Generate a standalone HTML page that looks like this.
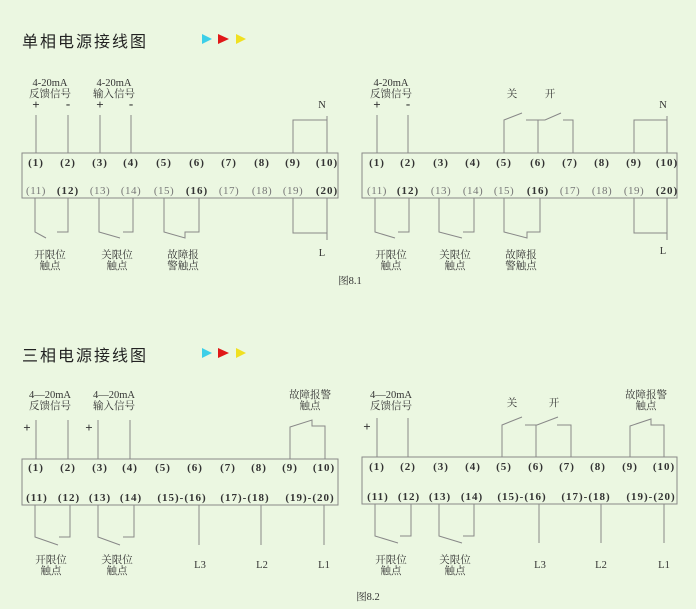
<!DOCTYPE html>
<html><head><meta charset="utf-8"><style>
html,body{margin:0;padding:0;background:#ebf7e1;}
svg{display:block;}
text{font-family:"Liberation Serif","Noto Serif CJK SC",serif;fill:#333;}
.n{font-size:11px;text-anchor:middle;font-weight:bold;letter-spacing:1px;}
.l{font-size:11px;text-anchor:middle;fill:#777;letter-spacing:0.5px;}
.c{font-size:10.5px;text-anchor:middle;}
.p{font-size:13px;text-anchor:middle;font-weight:bold;}
.t{font-family:"Liberation Sans","Noto Sans CJK SC",sans-serif;font-size:16px;fill:#222;letter-spacing:2px;}
</style></head><body>
<svg width="696" height="609" viewBox="0 0 696 609" xmlns="http://www.w3.org/2000/svg">
<rect width="696" height="609" fill="#ebf7e1"/>
<g fill="none" stroke="#888" stroke-width="1">
<rect x="22" y="153" width="316" height="45" fill="#ebf7e1"/>
<path d="M36 153V115M68 153V115M100 153V115M131 153V115"/>
<path d="M293 153V120H327M327 153V116"/>
<path d="M293 198V233H327M327 198V240"/>
<path d="M35 198V232L46 238M68 198V232H57"/>
<path d="M99 198V232L120 238M133 198V232H123"/>
<path d="M164 198V232L185 238V232H199V198"/>
<rect x="362" y="153" width="315" height="45" fill="#ebf7e1"/>
<path d="M377 153V115M408 153V115"/>
<path d="M504 153V120L522 113M526 120H545L561 113M538 153V120M563 120H573V153"/>
<path d="M634 153V120H667M667 153V116"/>
<path d="M634 198V233H667M667 198V240"/>
<path d="M375 198V232L395 238M409 198V232H398"/>
<path d="M439 198V232L462 238M474 198V232H463"/>
<path d="M504 198V232L527 238V232H540V198"/>
<rect x="22" y="459" width="316" height="46" fill="#ebf7e1"/>
<path d="M36 459V420M68 459V420M98 459V420M130 459V420"/>
<path d="M290 459V427L312 420V426H325V459"/>
<path d="M35 505V537L58 545M70 505V537H59"/>
<path d="M98 505V537L120 545M134 505V537H123"/>
<path d="M199 505V545M261 505V545M324 505V545"/>
<rect x="362" y="457" width="315" height="47" fill="#ebf7e1"/>
<path d="M377 457V418M408 457V418"/>
<path d="M502 457V425L522 417M525 425H537L558 417M536 457V425M557 425H571V457"/>
<path d="M630 457V426L651 419V425H664V457"/>
<path d="M375 504V536L398 543M411 504V536H400"/>
<path d="M439 504V536L462 543M474 504V536H463"/>
<path d="M539 504V543M601 504V543M664 504V543"/>
</g>
<text class="t" x="22" y="47">单相电源接线图</text>
<polygon points="202,34 212,39 202,44" fill="#3ccfe8"/><polygon points="218,34 229,39 218,44" fill="#e01818"/><polygon points="236,34 246,39 236,44" fill="#f0e020"/>
<text class="t" x="22" y="361">三相电源接线图</text>
<polygon points="202,348 212,353 202,358" fill="#3ccfe8"/><polygon points="218,348 229,353 218,358" fill="#e01818"/><polygon points="236,348 246,353 236,358" fill="#f0e020"/>

<text class="c" x="50" y="86">4-20mA</text><text class="c" x="50" y="97">反馈信号</text>
<text class="c" x="114" y="86">4-20mA</text><text class="c" x="114" y="97">输入信号</text>
<text class="p" x="36" y="109">+</text><text class="p" x="68" y="108">-</text>
<text class="p" x="100" y="109">+</text><text class="p" x="131" y="108">-</text>
<text class="c" x="322" y="108">N</text><text class="c" x="322" y="256">L</text>
<g class="n"><text x="36" y="166">(1)</text><text x="68" y="166">(2)</text><text x="100" y="166">(3)</text><text x="131" y="166">(4)</text><text x="164" y="166">(5)</text><text x="197" y="166">(6)</text><text x="229" y="166">(7)</text><text x="262" y="166">(8)</text><text x="293" y="166">(9)</text><text x="327" y="166">(10)</text></g>
<text class="l" x="36" y="194">(11)</text><text class="n" x="68" y="194">(12)</text><text class="l" x="100" y="194">(13)</text><text class="l" x="131" y="194">(14)</text><text class="l" x="164" y="194">(15)</text><text class="n" x="197" y="194">(16)</text><text class="l" x="229" y="194">(17)</text><text class="l" x="262" y="194">(18)</text><text class="l" x="293" y="194">(19)</text><text class="n" x="327" y="194">(20)</text>
<text class="c" x="50" y="258">开限位</text><text class="c" x="50" y="269">触点</text>
<text class="c" x="117" y="258">关限位</text><text class="c" x="117" y="269">触点</text>
<text class="c" x="183" y="258">故障报</text><text class="c" x="183" y="269">警触点</text>
<text class="c" x="350" y="284">图8.1</text>

<text class="c" x="391" y="86">4-20mA</text><text class="c" x="391" y="97">反馈信号</text>
<text class="p" x="377" y="109">+</text><text class="p" x="408" y="108">-</text>
<text class="c" x="512" y="97">关</text><text class="c" x="550" y="97">开</text>
<text class="c" x="663" y="108">N</text><text class="c" x="663" y="254">L</text>
<g class="n"><text x="377" y="166">(1)</text><text x="408" y="166">(2)</text><text x="441" y="166">(3)</text><text x="473" y="166">(4)</text><text x="504" y="166">(5)</text><text x="538" y="166">(6)</text><text x="570" y="166">(7)</text><text x="602" y="166">(8)</text><text x="634" y="166">(9)</text><text x="667" y="166">(10)</text></g>
<text class="l" x="377" y="194">(11)</text><text class="n" x="408" y="194">(12)</text><text class="l" x="441" y="194">(13)</text><text class="l" x="473" y="194">(14)</text><text class="l" x="504" y="194">(15)</text><text class="n" x="538" y="194">(16)</text><text class="l" x="570" y="194">(17)</text><text class="l" x="602" y="194">(18)</text><text class="l" x="634" y="194">(19)</text><text class="n" x="667" y="194">(20)</text>
<text class="c" x="391" y="258">开限位</text><text class="c" x="391" y="269">触点</text>
<text class="c" x="455" y="258">关限位</text><text class="c" x="455" y="269">触点</text>
<text class="c" x="521" y="258">故障报</text><text class="c" x="521" y="269">警触点</text>

<text class="c" x="50" y="398">4—20mA</text><text class="c" x="50" y="409">反馈信号</text>
<text class="c" x="114" y="398">4—20mA</text><text class="c" x="114" y="409">输入信号</text>
<text class="p" x="27" y="432">+</text><text class="p" x="89" y="432">+</text>
<text class="c" x="310" y="398">故障报警</text><text class="c" x="310" y="409">触点</text>
<g class="n"><text x="36" y="471">(1)</text><text x="68" y="471">(2)</text><text x="100" y="471">(3)</text><text x="130" y="471">(4)</text><text x="163" y="471">(5)</text><text x="195" y="471">(6)</text><text x="228" y="471">(7)</text><text x="259" y="471">(8)</text><text x="290" y="471">(9)</text><text x="324" y="471">(10)</text>
<text x="37" y="501">(11)</text><text x="69" y="501">(12)</text><text x="100" y="501">(13)</text><text x="131" y="501">(14)</text><text x="182" y="501">(15)-(16)</text><text x="245" y="501">(17)-(18)</text><text x="310" y="501">(19)-(20)</text></g>
<text class="c" x="200" y="568">L3</text><text class="c" x="262" y="568">L2</text><text class="c" x="324" y="568">L1</text>
<text class="c" x="51" y="563">开限位</text><text class="c" x="51" y="574">触点</text>
<text class="c" x="117" y="563">关限位</text><text class="c" x="117" y="574">触点</text>

<text class="c" x="391" y="398">4—20mA</text><text class="c" x="391" y="409">反馈信号</text>
<text class="p" x="367" y="431">+</text>
<text class="c" x="512" y="406">关</text><text class="c" x="554" y="406">开</text>
<text class="c" x="646" y="398">故障报警</text><text class="c" x="646" y="409">触点</text>
<g class="n"><text x="377" y="470">(1)</text><text x="408" y="470">(2)</text><text x="441" y="470">(3)</text><text x="473" y="470">(4)</text><text x="504" y="470">(5)</text><text x="536" y="470">(6)</text><text x="567" y="470">(7)</text><text x="598" y="470">(8)</text><text x="630" y="470">(9)</text><text x="664" y="470">(10)</text>
<text x="378" y="500">(11)</text><text x="409" y="500">(12)</text><text x="440" y="500">(13)</text><text x="472" y="500">(14)</text><text x="522" y="500">(15)-(16)</text><text x="586" y="500">(17)-(18)</text><text x="651" y="500">(19)-(20)</text></g>
<text class="c" x="540" y="568">L3</text><text class="c" x="601" y="568">L2</text><text class="c" x="664" y="568">L1</text>
<text class="c" x="391" y="563">开限位</text><text class="c" x="391" y="574">触点</text>
<text class="c" x="455" y="563">关限位</text><text class="c" x="455" y="574">触点</text>
<text class="c" x="368" y="600">图8.2</text>
</svg>
</body></html>
